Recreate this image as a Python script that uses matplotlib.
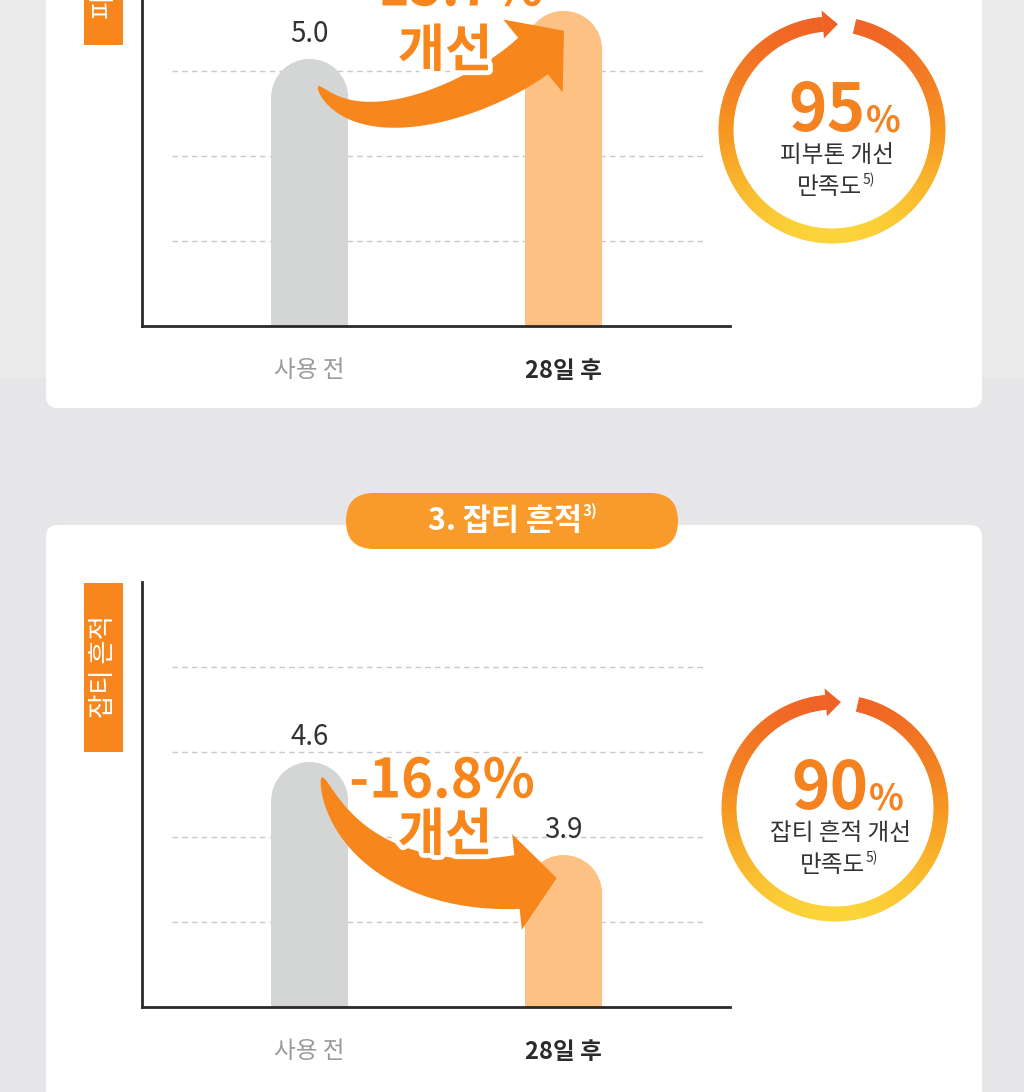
import numpy as np
import matplotlib
matplotlib.use("Agg")
import matplotlib.pyplot as plt
from matplotlib.patches import FancyBboxPatch, Rectangle, Ellipse, Polygon
from matplotlib.collections import PolyCollection
from matplotlib.colors import LinearSegmentedColormap
import matplotlib.patheffects as pe

plt.rcParams['font.family'] = ['Noto Sans CJK KR', 'DejaVu Sans']

# ---------------- data ----------------
categories = ['사용 전', '28일 후']
tone_values = [5.0, 5.8]
tone_change = '+15.7%'
tone_label = '피부톤'
tone_satisfaction = 95
tone_sat_text = '피부톤 개선'

spot_title = '3. 잡티 흔적'
spot_title_note = '3)'
spot_values = [4.6, 3.9]
spot_change = '-16.8%'
spot_label = '잡티 흔적'
spot_satisfaction = 90
spot_sat_text = '잡티 흔적 개선'

improve_word = '개선'
sat_word = '만족도'
sat_note = '5)'

W, H = 1024, 1092
fig = plt.figure(figsize=(W / 100, H / 100), dpi=100)
fig.patch.set_facecolor('#e6e6e8')

ORANGE = '#f7871d'
BAR_COLORS = ['#d4d6d6', '#fdc283']

# background layer (cards)
bg = fig.add_axes([0, 0, 1, 1], zorder=0)
bg.set_xlim(0, W); bg.set_ylim(H, 0); bg.axis('off')
bg.add_patch(Rectangle((0, 0), W, 378, color='#ecebeb', lw=0))
bg.add_patch(FancyBboxPatch((46, -40), 936, 448, boxstyle='round,pad=0,rounding_size=12',
                            fc='white', ec='none'))
bg.add_patch(FancyBboxPatch((46, 525), 936, 620, boxstyle='round,pad=0,rounding_size=12',
                            fc='white', ec='none'))

# overlay layer (annotations)
ov = fig.add_axes([0, 0, 1, 1], zorder=5)
ov.set_xlim(0, W); ov.set_ylim(H, 0); ov.axis('off')
ov.patch.set_alpha(0)

XLIM = (-0.66, 1.655)


def chart(bottom_px, vals, ylim):
    ax = fig.add_axes([142 / W, 1 - bottom_px / H, 588 / W, 425 / H], zorder=2)
    ax.set_facecolor('none')
    ax.set_xlim(*XLIM)
    ax.set_ylim(*ylim)
    lo, hi = ylim
    w = 77 / 588 * (XLIM[1] - XLIM[0])
    ry = 38.5 / 425 * (hi - lo)
    for i, v in enumerate(vals):
        ax.bar(i, v - ry - lo, bottom=lo, width=w, color=BAR_COLORS[i], lw=0, zorder=2)
        ax.add_patch(Ellipse((i, v - ry), w, 2 * ry, color=BAR_COLORS[i], lw=0, zorder=2))
        ax.annotate(f'{v:.1f}', (i, v), xytext=(0, 25), textcoords='offset pixels',
                    ha='center', va='center', fontsize=20, color='#333333',
                    fontweight='light', annotation_clip=False)
    for f in [0.2, 0.4, 0.6, 0.8]:
        ax.plot([0.051, 0.959], [f, f], transform=ax.transAxes, ls=(0, (4, 3)),
                color='#c9c9c9', lw=1, zorder=1)
    for s in ['top', 'right']:
        ax.spines[s].set_visible(False)
    for s in ['left', 'bottom']:
        ax.spines[s].set_color('#2a2a2a')
        ax.spines[s].set_linewidth(2)
        ax.spines[s].set_zorder(3)
    ax.set_yticks([])
    ax.set_xticks([0, 1])
    ax.set_xticklabels(categories, fontsize=17)
    ax.tick_params(axis='x', length=0, pad=24)
    lbl = ax.get_xticklabels()
    lbl[0].set_color('#9a9a9a')
    lbl[1].set_color('#2b2b2b')
    lbl[1].set_fontweight('bold')
    return ax


chart(326, tone_values, (0.55, 7.63))
chart(1007, spot_values, (2.756, 5.955))


def curved_arrow(P, wmax, head_hw, head_len):
    P = np.array(P, float)
    t = np.linspace(0, 1, 120)
    B = (((1 - t) ** 3)[:, None] * P[0] + (3 * (1 - t) ** 2 * t)[:, None] * P[1]
         + (3 * (1 - t) * t ** 2)[:, None] * P[2] + (t ** 3)[:, None] * P[3])
    dB = ((3 * (1 - t) ** 2)[:, None] * (P[1] - P[0]) + (6 * (1 - t) * t)[:, None] * (P[2] - P[1])
          + (3 * t ** 2)[:, None] * (P[3] - P[2]))
    T = dB / np.linalg.norm(dB, axis=1)[:, None]
    N = np.stack([-T[:, 1], T[:, 0]], axis=1)
    wd = wmax / 2 * t ** 0.55
    left = B + N * wd[:, None]
    right = B - N * wd[:, None]
    Te, Ne = T[-1], N[-1]
    head = [P[3] + Ne * head_hw, P[3] + Te * head_len, P[3] - Ne * head_hw]
    poly = np.vstack([left, head, right[::-1]])
    ov.add_patch(Polygon(poly, closed=True, fc=ORANGE, ec='none', zorder=3))


curved_arrow([(318, 86), (360, 145), (479, 100), (533, 56)], 47, 47, 40)
curved_arrow([(322, 777), (347, 862), (437, 890), (517, 882)], 54, 48, 40)

stroke = [pe.withStroke(linewidth=7, foreground='white')]
for (x, y, s, fs) in [(445, -10, tone_change, 39), (445, 51, improve_word, 37),
                      (442, 782, spot_change, 39), (445, 835, improve_word, 37)]:
    ov.text(x, y, s, ha='center', va='center', fontsize=fs, fontweight='black',
            color=ORANGE, path_effects=stroke, zorder=4)

# y-label boxes
ov.add_patch(Rectangle((84, -130), 39, 175, fc=ORANGE, ec='none', zorder=2))
ov.text(103.5, 18, tone_label, rotation=90, ha='center', va='bottom', fontsize=19,
        color='white', zorder=3)
ov.add_patch(Rectangle((84, 583), 39, 169, fc=ORANGE, ec='none', zorder=2))
ov.text(103.5, 667, spot_label, rotation=90, ha='center', va='center', fontsize=19,
        color='white', zorder=3)

# title pill
ov.add_patch(FancyBboxPatch((346, 493), 332, 56, boxstyle='round,pad=0,rounding_size=28',
                            fc='#f99b2b', ec='none', zorder=2))
ov.text(582, 521, spot_title, ha='right', va='center', fontsize=22, fontweight='bold',
        color='white', zorder=3)
ov.text(583, 511, spot_title_note, ha='left', va='center', fontsize=11, fontweight='bold',
        color='white', zorder=3)

ring_cmap = LinearSegmentedColormap.from_list('ring', ['#ef5f24', '#f6961f', '#fcd83a'])


def ring(cx, cy, r_out, thick, gap_a, gap_b, tip_a, pct, line1):
    r_in = r_out - thick
    r_mid = (r_out + r_in) / 2
    th = np.radians(np.linspace(gap_b, gap_a + 360, 400))
    polys, cols = [], []
    for a0, a1 in zip(th[:-1], th[1:]):
        pts = [(cx + r * np.cos(a), cy - r * np.sin(a))
               for r, a in [(r_in, a0), (r_out, a0), (r_out, a1), (r_in, a1)]]
        polys.append(pts)
        ym = cy - r_mid * np.sin((a0 + a1) / 2)
        cols.append(ring_cmap((ym - (cy - r_out)) / (2 * r_out)))
    ov.add_collection(PolyCollection(polys, facecolors=cols, edgecolors=cols,
                                     linewidths=0.6, zorder=3))
    b = np.radians(gap_b)
    ta = np.radians(tip_a)
    head = [(cx + (r_mid - 14) * np.cos(b), cy - (r_mid - 14) * np.sin(b)),
            (cx + (r_mid + 14) * np.cos(b), cy - (r_mid + 14) * np.sin(b)),
            (cx + r_mid * np.cos(ta), cy - r_mid * np.sin(ta))]
    ov.add_patch(Polygon(head, closed=True, fc=ring_cmap(0.02), ec='none', zorder=3))
    ov.text(cx + 34, cy + 1, f'{pct}', ha='right', va='baseline', fontsize=47,
            fontweight='black', color='#f58220', zorder=4)
    ov.text(cx + 34, cy + 1, '%', ha='left', va='baseline', fontsize=26,
            fontweight='black', color='#f58220', zorder=4)
    ov.text(cx + 5, cy + 26, line1, ha='center', va='center', fontsize=17,
            color='#333333', zorder=4)
    ov.text(cx + 30, cy + 57, sat_word, ha='right', va='center', fontsize=17,
            color='#333333', zorder=4)
    ov.text(cx + 31, cy + 50, sat_note, ha='left', va='center', fontsize=10,
            color='#333333', zorder=4)


ring(832, 130, 113, 14, 77.5, 95, 86.8, tone_satisfaction, tone_sat_text)
ring(835, 808, 113, 14, 77.5, 95, 86.8, spot_satisfaction, spot_sat_text)

fig.savefig('out.png', dpi=100, facecolor=fig.get_facecolor())
